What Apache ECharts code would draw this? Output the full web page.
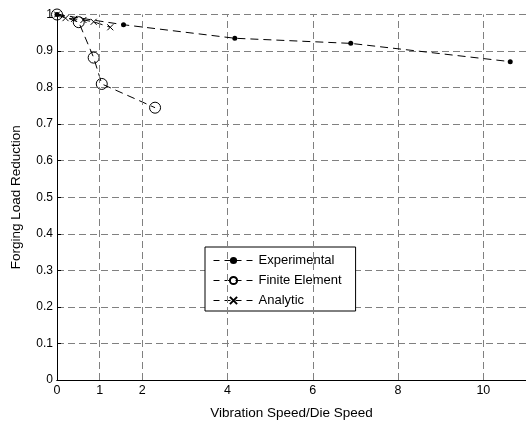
<!DOCTYPE html>
<html><head><meta charset="utf-8">
<script src="https://cdn.jsdelivr.net/npm/echarts@6/dist/echarts.min.js"></script>
<style>html,body{margin:0;padding:0;background:#fff}#c{width:526px;height:425px}</style>
</head><body><div id="c"></div>
<script>
const xTicks = [0, 1, 2, 4, 6, 8, 10];
const experimental = [[0, 1.0], [1.56, 0.972], [4.17, 0.935], [6.89, 0.921], [10.63, 0.871]];
const finiteElement = [[0, 1.0], [0.51, 0.979], [0.86, 0.882], [1.05, 0.81], [2.3, 0.745]];
const analytic = [[0, 1.0], [0.2, 0.99], [0.4, 0.988], [0.62, 0.985], [0.86, 0.98], [1.25, 0.965]];

const font = 'Liberation Sans, Arial, sans-serif';
const chart = echarts.init(document.getElementById('c'));
const dash = {color: '#000', width: 1, type: [8, 5]};
const gridDash = {color: '#808080', width: 1, type: [7, 4]};
chart.setOption({
  animation: false,
  backgroundColor: '#fff',
  grid: {left: 57, top: 14.5, right: -1, bottom: 38.5},
  legend: {
    orient: 'vertical', left: 205, top: 247,
    backgroundColor: '#fff', borderColor: '#000', borderWidth: 1, borderRadius: 0,
    padding: [7, 14, 4, 8], itemWidth: 40, itemHeight: 9, itemGap: 7,
    lineStyle: {width: 1, type: [6, 5]},
    textStyle: {fontFamily: font, fontSize: 13, color: '#000'},
    data: ['Experimental', 'Finite Element', 'Analytic']
  },
  xAxis: [{
    type: 'value', min: 0, max: 11, interval: 1,
    name: 'Vibration Speed/Die Speed', nameLocation: 'middle', nameGap: 26,
    nameTextStyle: {fontFamily: font, fontSize: 13.5, color: '#000'},
    axisLine: {onZero: false, lineStyle: {color: '#000', width: 1}},
    axisTick: {show: true, inside: true, length: 4, customValues: xTicks, lineStyle: {color: '#000'}},
    axisLabel: {customValues: xTicks, fontFamily: font, fontSize: 12.5, color: '#000', margin: 4},
    splitLine: {show: false}
  }, {
    type: 'value', position: 'top', min: 0, max: 11,
    axisLine: {show: true, lineStyle: {color: '#000', width: 1}},
    axisTick: {show: false}, axisLabel: {show: false}, splitLine: {show: false}
  }],
  yAxis: {
    type: 'value', min: 0, max: 1, interval: 0.1,
    name: 'Forging Load Reduction', nameLocation: 'middle', nameGap: 34,
    nameTextStyle: {fontFamily: font, fontSize: 13.5, color: '#000'},
    axisLine: {show: true, lineStyle: {color: '#000', width: 1}},
    axisTick: {show: true, inside: true, length: 4, lineStyle: {color: '#000'}},
    axisLabel: {fontFamily: font, fontSize: 12, color: '#000', margin: 4},
    splitLine: {show: true, lineStyle: gridDash}
  },
  series: [{
    name: 'Experimental', type: 'line', data: experimental,
    symbol: 'circle', symbolSize: 5, showAllSymbol: true,
    itemStyle: {color: '#000'}, lineStyle: dash, z: 5,
    markLine: {
      silent: true, symbol: 'none', label: {show: false}, animation: false,
      lineStyle: gridDash,
      data: xTicks.filter(v => v > 0).map(v => ({xAxis: v}))
    }
  }, {
    name: 'Finite Element', type: 'line', data: finiteElement,
    symbol: 'circle', symbolSize: 11, showAllSymbol: true,
    itemStyle: {color: 'none', borderColor: '#000', borderWidth: 1}, lineStyle: dash, z: 4
  }, {
    name: 'Analytic', type: 'line', data: analytic,
    symbol: 'path://M0,0L10,10M10,0L0,10', symbolSize: 6, showAllSymbol: true,
    itemStyle: {color: 'none', borderColor: '#000', borderWidth: 1}, lineStyle: dash, z: 3
  }]
});
</script></body></html>
